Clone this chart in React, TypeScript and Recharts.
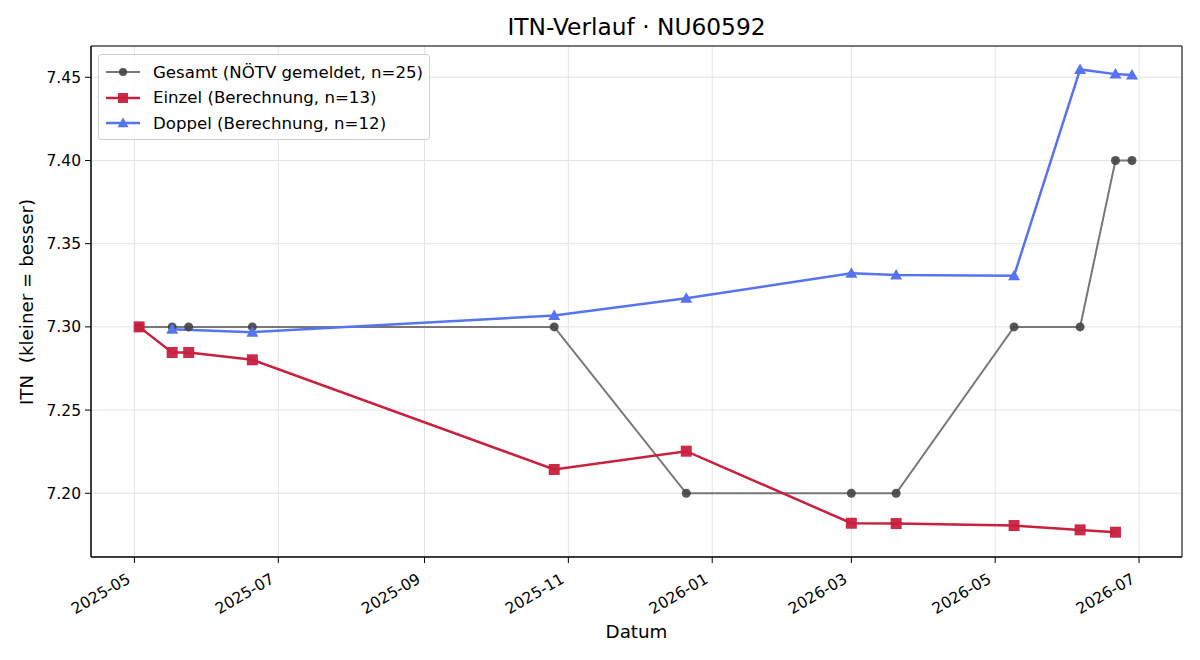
import { LineChart, Line, XAxis, YAxis, CartesianGrid, ReferenceArea } from 'recharts';

// Gesamt (NÖTV gemeldet)
const gesamtDates = ['2025-05-03', '2025-05-17', '2025-05-24', '2025-06-20', '2025-10-26', '2025-12-21', '2026-03-01', '2026-03-20', '2026-05-09', '2026-06-06', '2026-06-21', '2026-06-28'];
const gesamtValues = [7.3, 7.3, 7.3, 7.3, 7.3, 7.2, 7.2, 7.2, 7.3, 7.3, 7.4, 7.4];

// Einzel (Berechnung)
const einzelDates = ['2025-05-03', '2025-05-17', '2025-05-24', '2025-06-20', '2025-10-26', '2025-12-21', '2026-03-01', '2026-03-20', '2026-05-09', '2026-06-06', '2026-06-21'];
const einzelValues = [7.3, 7.2846, 7.2846, 7.2802, 7.2143, 7.2253, 7.182, 7.1818, 7.1806, 7.178, 7.1766];

// Doppel (Berechnung)
const doppelDates = ['2025-05-17', '2025-06-20', '2025-10-26', '2025-12-21', '2026-03-01', '2026-03-20', '2026-05-09', '2026-06-06', '2026-06-21', '2026-06-28'];
const doppelValues = [7.2986, 7.2968, 7.3068, 7.3172, 7.3322, 7.3312, 7.3308, 7.4547, 7.4519, 7.4513];

const xTickDates = ['2025-05-01', '2025-07-01', '2025-09-01', '2025-11-01', '2026-01-01', '2026-03-01', '2026-05-01', '2026-07-01'];
const yTicks = [7.2, 7.25, 7.3, 7.35, 7.4, 7.45];

const X_MIN = Date.parse('2025-04-12T14:00:00Z');
const X_MAX = Date.parse('2026-07-19T05:00:00Z');
const Y_MIN = 7.1617;
const Y_MAX = 7.4688;

const FONT = '"DejaVu Sans", sans-serif';

const toSeries = (dates: string[], values: number[]) =>
  dates.map((d, i) => ({ t: Date.parse(d), v: values[i] }));

const gesamt = toSeries(gesamtDates, gesamtValues);
const einzel = toSeries(einzelDates, einzelValues);
const doppel = toSeries(doppelDates, doppelValues);
const xTicks = xTickDates.map((d) => Date.parse(d));

const GRAY_LINE = '#777777';
const GRAY_DOT = '#444444';
const RED = '#c8203e';
const BLUE = '#5674f0';

const fmtMonth = (t: number) => {
  const d = new Date(t);
  return `${d.getUTCFullYear()}-${String(d.getUTCMonth() + 1).padStart(2, '0')}`;
};

const Circle = ({ cx, cy, r = 4.5 }: any) => <circle cx={cx} cy={cy} r={r} fill={GRAY_DOT} fillOpacity={0.9} />;
const Square = ({ cx, cy, s = 11 }: any) => (
  <rect x={cx - s / 2} y={cy - s / 2} width={s} height={s} fill={RED} fillOpacity={0.95} />
);
const Triangle = ({ cx, cy, s = 6 }: any) => (
  <polygon points={`${cx},${cy - s} ${cx - s},${cy + s * 0.75} ${cx + s},${cy + s * 0.75}`} fill={BLUE} />
);

const XTick = ({ x, y, payload }: any) => (
  <text
    x={x - 3}
    y={y + 17}
    transform={`rotate(-30, ${x - 3}, ${y + 17})`}
    textAnchor="end"
    fontSize={15.5}
    fontFamily={FONT}
    fill="#000"
  >
    {fmtMonth(payload.value)}
  </text>
);

const legendItems = [
  { label: 'Gesamt (NÖTV gemeldet, n=25)', color: GRAY_LINE, kind: 'circle' },
  { label: 'Einzel (Berechnung, n=13)', color: RED, kind: 'square' },
  { label: 'Doppel (Berechnung, n=12)', color: BLUE, kind: 'triangle' },
];

const LegendBox = () => (
  <div
    style={{
      position: 'absolute',
      left: 98,
      top: 54,
      width: 330,
      height: 84,
      border: '1px solid #d0d0d0',
      borderRadius: 3,
      background: 'rgba(255,255,255,0.8)',
      fontFamily: FONT,
      fontSize: 16.6,
    }}
  >
    {legendItems.map((it, i) => (
      <div key={i} style={{ position: 'absolute', left: 5, top: 7 + i * 25.5, height: 20, display: 'flex', alignItems: 'center' }}>
        <svg width={37} height={20}>
          <line x1={2} y1={10} x2={36} y2={10} stroke={it.color} strokeWidth={i === 0 ? 2 : 2.5} />
          {it.kind === 'circle' && <Circle cx={19} cy={10} r={4} />}
          {it.kind === 'square' && <Square cx={19} cy={10} s={10} />}
          {it.kind === 'triangle' && <Triangle cx={19} cy={10} s={5.5} />}
        </svg>
        <span style={{ marginLeft: 12, whiteSpace: 'nowrap' }}>{it.label}</span>
      </div>
    ))}
  </div>
);

export default function App() {
  return (
    <div style={{ position: 'absolute', left: 0, top: 0, width: 1200, height: 660, background: '#fff' }}>
      <div
        style={{
          position: 'absolute',
          top: 13,
          left: 91,
          width: 1091,
          textAlign: 'center',
          fontFamily: FONT,
          fontSize: 23.3,
        }}
      >
        ITN-Verlauf · NU60592
      </div>
      <LineChart
        width={1200}
        height={660}
        margin={{ top: 46, right: 18, bottom: 43, left: 31 }}
      >
        <CartesianGrid stroke="#e3e3e3" strokeWidth={1} />
        <XAxis
          dataKey="t"
          type="number"
          domain={[X_MIN, X_MAX]}
          allowDataOverflow
          ticks={xTicks}
          tick={<XTick />}
          tickSize={6}
          height={60}
          axisLine={{ stroke: '#000' }}
          tickLine={{ stroke: '#000' }}
        />
        <YAxis
          type="number"
          domain={[Y_MIN, Y_MAX]}
          allowDataOverflow
          ticks={yTicks}
          tickFormatter={(v: number) => v.toFixed(2)}
          width={60}
          tickSize={6}
          tickMargin={4}
          tick={{ fill: '#000', fontSize: 15.5, fontFamily: FONT }}
          axisLine={{ stroke: '#000' }}
          tickLine={{ stroke: '#000' }}
        />
        <ReferenceArea x1={X_MIN} x2={X_MAX} y1={Y_MIN} y2={Y_MAX} fill="none" stroke="#000" strokeWidth={1} />
        <Line
          data={gesamt}
          dataKey="v"
          stroke={GRAY_LINE}
          strokeWidth={2}
          isAnimationActive={false}
          dot={(p: any) => <Circle key={`g${p.index}`} cx={p.cx} cy={p.cy} />}
          activeDot={false}
        />
        <Line
          data={einzel}
          dataKey="v"
          stroke={RED}
          strokeWidth={2.5}
          isAnimationActive={false}
          dot={(p: any) => <Square key={`e${p.index}`} cx={p.cx} cy={p.cy} />}
          activeDot={false}
        />
        <Line
          data={doppel}
          dataKey="v"
          stroke={BLUE}
          strokeWidth={2.5}
          isAnimationActive={false}
          dot={(p: any) => <Triangle key={`d${p.index}`} cx={p.cx} cy={p.cy} />}
          activeDot={false}
        />
      </LineChart>
      <div
        style={{
          position: 'absolute',
          left: 26,
          top: 302,
          transform: 'translate(-50%, -50%) rotate(-90deg)',
          whiteSpace: 'nowrap',
          fontFamily: FONT,
          fontSize: 18.3,
        }}
      >
        ITN&nbsp;&nbsp;(kleiner = besser)
      </div>
      <div
        style={{
          position: 'absolute',
          top: 621,
          left: 91,
          width: 1091,
          textAlign: 'center',
          fontFamily: FONT,
          fontSize: 18.3,
        }}
      >
        Datum
      </div>
      <LegendBox />
    </div>
  );
}
